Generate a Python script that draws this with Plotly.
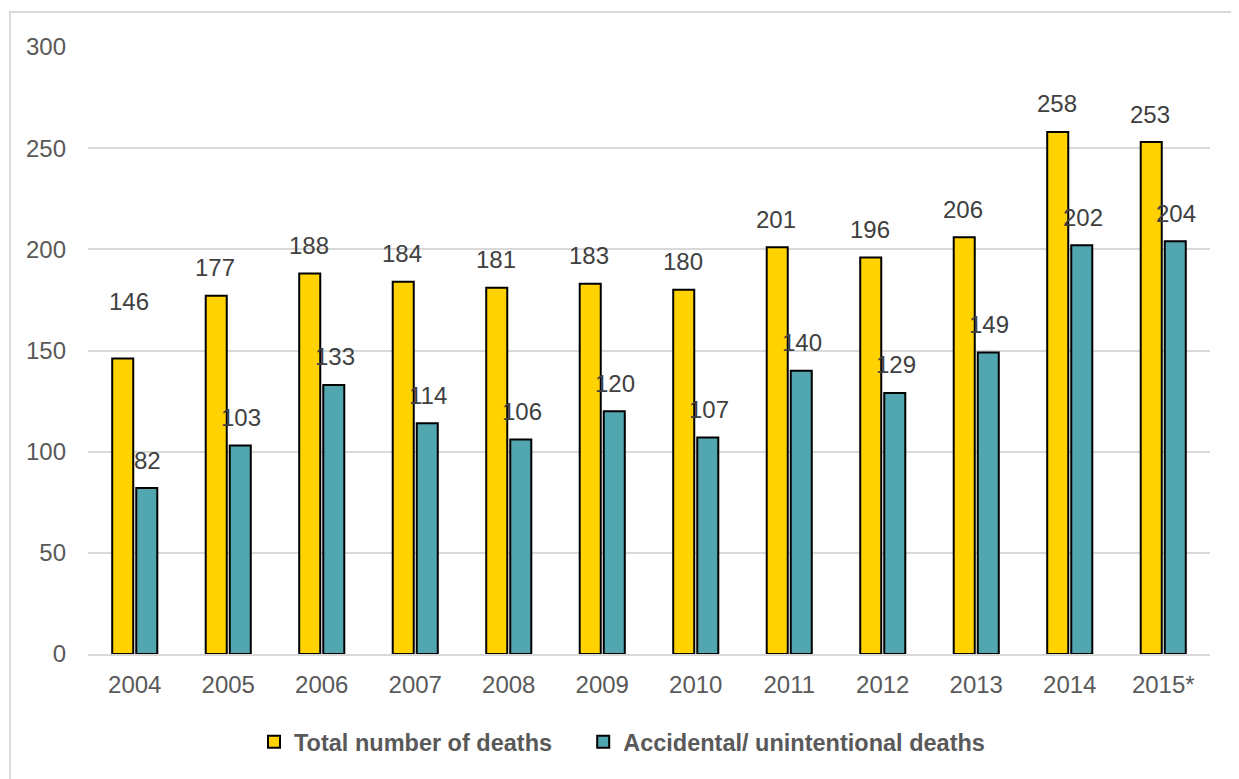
import plotly.graph_objects as go

years = ["2004", "2005", "2006", "2007", "2008", "2009", "2010", "2011", "2012", "2013", "2014", "2015*"]
total_deaths = [146, 177, 188, 184, 181, 183, 180, 201, 196, 206, 258, 253]
accidental_deaths = [82, 103, 133, 114, 106, 120, 107, 140, 129, 149, 202, 204]
y_ticks = [0, 50, 100, 150, 200, 250, 300]

YELLOW = "#FFD200"
TEAL = "#52A6B0"
OFF = 8  # page body margin (figure starts at page pixel 8,8)
W, H = 1239 - OFF, 779 - OFF
L, T = 88 - OFF, 47 - OFF
R, B = 1239 - 1210, 779 - 654
pw, ph = W - L - R, H - T - B
FONT = "Liberation Sans, Arial"


def px_x(page_x):
    return (page_x - 88) / pw


def px_y(page_y):
    return (654 - page_y) / ph


fig = go.Figure()
fig.add_trace(go.Bar(x=years, y=total_deaths,
                     name="<b>Total number of deaths</b>" + "&nbsp;" * 4,
                     marker=dict(color=YELLOW, line=dict(color="#000000", width=2))))
fig.add_trace(go.Bar(x=years, y=accidental_deaths, name="<b>Accidental/ unintentional deaths</b>",
                     marker=dict(color=TEAL, line=dict(color="#000000", width=2))))

ann = []
for i, v in enumerate(total_deaths):
    extra_y = 29 if i == 0 else 0
    extra_x = 7 if i == 0 else 0
    ann.append(dict(x=i, y=v, xref="x", yref="y", text=str(v), showarrow=False,
                    xshift=-13 + extra_x, yshift=28 + extra_y,
                    font=dict(family=FONT, size=24, color="#404040")))
for i, v in enumerate(accidental_deaths):
    ann.append(dict(x=i, y=v, xref="x", yref="y", text=str(v), showarrow=False,
                    xshift=13, yshift=28,
                    font=dict(family=FONT, size=24, color="#404040")))

fig.update_layout(
    width=W, height=H,
    margin=dict(l=L, r=R, t=T, b=B, pad=0),
    paper_bgcolor="white", plot_bgcolor="white",
    barmode="group", bargap=0.486, bargroupgap=0.125,
    font=dict(family=FONT, size=24, color="#595959"),
    xaxis=dict(type="category", showgrid=False, showline=True, linecolor="#D9D9D9", linewidth=2,
               ticks="", tickfont=dict(size=24, color="#595959"), ticklabelstandoff=8),
    yaxis=dict(range=[0, 300], tickvals=y_ticks, showgrid=True, gridcolor="#D9D9D9",
               gridwidth=2, zeroline=False, ticks="", tickfont=dict(size=24, color="#595959"),
               ticklabelstandoff=21),
    legend=dict(orientation="h", x=px_x(254), xanchor="left",
                y=px_y(742), yanchor="middle",
                font=dict(size=23.5, color="#595959", family=FONT),
                traceorder="normal", itemwidth=30),
    annotations=ann,
    shapes=[dict(type="rect", xref="paper", yref="paper",
                 x0=px_x(10), x1=px_x(1260),
                 y0=px_y(800), y1=px_y(12),
                 line=dict(color="#D9D9D9", width=2), fillcolor="rgba(0,0,0,0)", layer="below")],
)

fig.write_html("out.html")
